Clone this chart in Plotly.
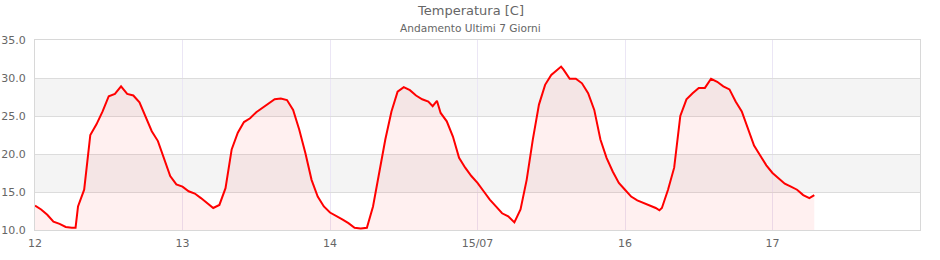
import plotly.graph_objects as go
import pandas as pd

# Hours since 12/07 00:00 and temperature readings [C]
hours = [0, 1, 2, 3, 4, 5, 6, 6.6, 7, 8, 9, 10, 11, 12, 13, 14, 15, 16, 17, 18, 19, 20,
         21, 22, 23, 24, 25, 26, 27, 28, 29, 30, 31, 32, 33, 34, 35, 36, 37, 38, 39, 40,
         41, 42, 43, 44, 45, 46, 47, 48, 49, 50, 51, 52, 53, 54, 55, 56, 57, 58, 59, 60,
         61, 62, 63, 64, 64.7, 65.4, 66, 67, 68, 69, 70, 71, 72, 73, 74, 75, 76, 77, 78,
         79, 80, 81, 82, 83, 84, 85, 85.6, 86, 87, 88, 89, 90, 91, 92, 93, 94, 95, 96,
         97, 98, 99, 100, 101, 101.6, 102, 103, 104, 105, 106, 107, 108, 109, 110, 111,
         112, 113, 114, 115, 116, 117, 118, 119, 120, 121, 122, 123, 124, 125, 126, 126.8]
temps = [13.2, 12.7, 12.0, 11.1, 10.8, 10.4, 10.3, 10.3, 13.1, 15.3, 22.5, 23.9, 25.6, 27.6,
         27.9, 28.9, 27.9, 27.7, 26.8, 25.0, 23.0, 21.7, 19.5, 17.1, 16.0, 15.7, 15.1, 14.8,
         14.2, 13.6, 12.9, 13.3, 15.5, 20.6, 22.8, 24.2, 24.7, 25.5, 26.1, 26.7, 27.2, 27.3,
         27.1, 25.8, 23.2, 20.1, 16.6, 14.4, 13.1, 12.3, 11.9, 11.4, 10.9, 10.3, 10.2, 10.3,
         13.1, 17.5, 21.9, 25.6, 28.2, 28.8, 28.4, 27.7, 27.2, 26.9, 26.3, 27.0, 25.4, 24.3,
         22.3, 19.5, 18.2, 17.1, 16.2, 15.1, 14.0, 13.1, 12.2, 11.8, 11.0, 12.7, 16.6, 21.9,
         26.5, 29.1, 30.4, 31.1, 31.5, 31.1, 29.9, 29.9, 29.3, 28.0, 25.8, 21.9, 19.5, 17.7,
         16.2, 15.3, 14.4, 13.9, 13.6, 13.3, 12.9, 12.6, 12.9, 15.3, 18.2, 25.0, 27.2, 28.0,
         28.7, 28.7, 29.9, 29.5, 28.9, 28.5, 26.9, 25.6, 23.2, 21.1, 19.8, 18.5, 17.5, 16.8,
         16.1, 15.7, 15.3, 14.6, 14.2, 14.6]

start_date = "2024-07-12"
x_tick_dates = ["2024-07-12", "2024-07-13", "2024-07-14", "2024-07-15", "2024-07-16", "2024-07-17"]
x_tick_labels = ["12", "13", "14", "15/07", "16", "17"]
y_bands = [(15, 20), (25, 30)]

times = pd.Timestamp(start_date) + pd.to_timedelta(hours, unit="h")

FONT = "DejaVu Sans"
GRAY = "#666666"

fig = go.Figure()
fig.add_trace(go.Scatter(
    x=times, y=temps, mode="lines",
    line=dict(color="#ff0000", width=2),
    fill="tozeroy", fillcolor="rgba(255,0,0,0.06)",
    hoverinfo="x+y", showlegend=False,
))

shapes = []
for y0, y1 in y_bands:
    shapes.append(dict(type="rect", xref="paper", yref="y", x0=0, x1=1, y0=y0, y1=y1,
                       fillcolor="#f4f4f4", line=dict(width=0), layer="below"))

fig.update_layout(
    width=940, height=260,
    margin=dict(l=35, r=20, t=40, b=30, autoexpand=False),
    paper_bgcolor="white", plot_bgcolor="white",
    font=dict(family=FONT, size=11, color=GRAY),
    shapes=shapes,
    annotations=[
        dict(text="Temperatura [C]", xref="paper", yref="paper", x=(470 - 35) / 885,
             y=1 + (40 - 11) / 190, xanchor="center", yanchor="middle", showarrow=False,
             font=dict(family=FONT, size=13, color=GRAY)),
        dict(text="Andamento Ultimi 7 Giorni", xref="paper", yref="paper", x=(470 - 35) / 885,
             y=1 + (40 - 28) / 190, xanchor="center", yanchor="middle", showarrow=False,
             font=dict(family=FONT, size=10.6, color=GRAY)),
    ],
    xaxis=dict(
        range=["2024-07-12", "2024-07-18"],
        tickvals=x_tick_dates, ticktext=x_tick_labels,
        showgrid=True, gridcolor="#ebe6f5", gridwidth=1,
        showline=True, linecolor="#d8d8d8", linewidth=1, mirror=True,
        ticks="", zeroline=False, fixedrange=True, automargin=False,
        ticklabelstandoff=3,
        tickfont=dict(family=FONT, size=11, color=GRAY),
    ),
    yaxis=dict(
        range=[10, 35], tickvals=[10, 15, 20, 25, 30, 35], tickformat=".1f",
        showgrid=True, gridcolor="#dcdcdc", gridwidth=1,
        showline=True, linecolor="#d8d8d8", linewidth=1, mirror=True,
        ticks="", zeroline=False, fixedrange=True, automargin=False,
        ticklabelstandoff=6,
        tickfont=dict(family=FONT, size=11, color=GRAY),
    ),
)

fig.write_html("out.html")
